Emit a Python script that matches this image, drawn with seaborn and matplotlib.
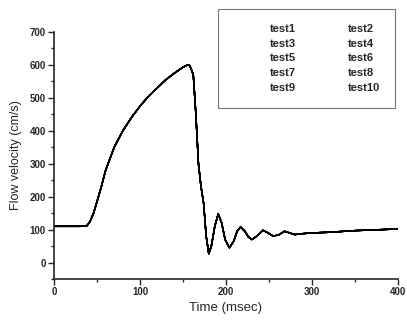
import numpy as np
import pandas as pd
import matplotlib
matplotlib.use("Agg")
import matplotlib.pyplot as plt
import seaborn as sns
from matplotlib.lines import Line2D
from matplotlib.ticker import MultipleLocator

# valores (todos os testes praticamente sobrepostos)
tempo = [0, 10, 20, 30, 38, 42, 46, 50, 55, 60, 70, 80, 90, 100, 110, 120, 130,
         140, 150, 155, 158, 162, 165, 168, 171, 174, 177, 180, 183, 187, 191,
         195, 199, 204, 209, 213, 217, 222, 226, 230, 236, 243, 249, 255, 262,
         268, 274, 280, 290, 300, 320, 350, 380, 400]
velocidade = [110, 110, 110, 110, 111, 125, 150, 185, 230, 280, 350, 400, 440,
              475, 505, 530, 555, 575, 593, 600, 598, 570, 450, 300, 230, 180,
              80, 27, 50, 110, 148, 120, 70, 45, 65, 95, 108, 95, 78, 70, 80,
              98, 90, 80, 85, 95, 90, 85, 88, 90, 92, 97, 100, 102]
testes = ["test1", "test2", "test3", "test4", "test5",
          "test6", "test7", "test8", "test9", "test10"]

df = pd.DataFrame({
    "Time (msec)": np.tile(tempo, len(testes)),
    "Flow velocity (cm/s)": np.tile(velocidade, len(testes)),
    "teste": np.repeat(testes, len(tempo)),
})

sns.set_style("ticks")
plt.rcParams["font.family"] = ["Liberation Sans", "DejaVu Sans"]

fig = plt.figure(figsize=(4.07, 3.2), dpi=100)
ax = fig.add_axes([0.1327, 0.128, 0.845, 0.772])

sns.lineplot(data=df, x="Time (msec)", y="Flow velocity (cm/s)", hue="teste",
             palette=["black"] * len(testes), linewidth=1.0, legend=False,
             estimator=None, units="teste", ax=ax)

ax.set_xlim(0, 400)
ax.set_ylim(-50, 700)
ax.xaxis.set_major_locator(MultipleLocator(100))
ax.xaxis.set_minor_locator(MultipleLocator(50))
ax.yaxis.set_minor_locator(MultipleLocator(50))
ax.set_yticks([0, 100, 200, 300, 400, 500, 600, 700])
sns.despine(ax=ax)
for s in ["left", "bottom"]:
    ax.spines[s].set_linewidth(1.2)
ax.tick_params(axis="both", which="major", length=4, width=1, labelsize=7,
               direction="out", pad=2)
ax.tick_params(axis="both", which="minor", length=2, width=1)
for lbl in ax.get_xticklabels() + ax.get_yticklabels():
    lbl.set_fontweight("bold")
ax.set_xlabel("Time (msec)", fontsize=9.5, labelpad=3)
ax.set_ylabel("Flow velocity (cm/s)", fontsize=9, labelpad=5)

# legenda preenchida por linhas: test1 test2 / test3 test4 ...
ordem = testes[0::2] + testes[1::2]
handles = [Line2D([], [], color="none") for _ in ordem]
leg = fig.legend(handles, ordem, ncol=2, loc="upper right",
                 bbox_to_anchor=(0.536, 0.669, 0.434, 0.303), mode="expand",
                 borderaxespad=0, frameon=True, fancybox=False, handlelength=2.5,
                 prop={"weight": "bold", "size": 8}, labelspacing=0.42,
                 columnspacing=1.0, borderpad=1.35)
leg.get_frame().set_edgecolor("#555555")
leg.get_frame().set_linewidth(0.8)

fig.savefig("out.png", dpi=100)
